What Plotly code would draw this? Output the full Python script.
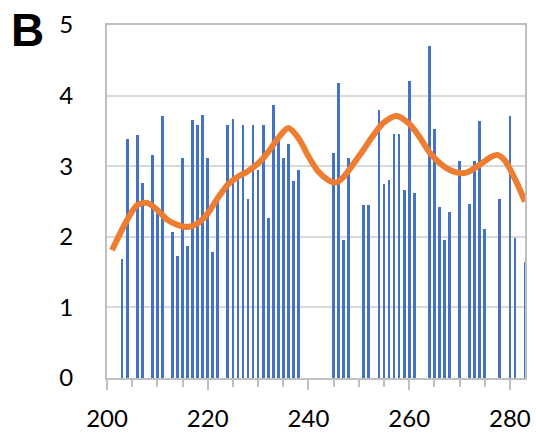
import plotly.graph_objects as go

# Bar data (x position, value)
bar_x = [203, 204, 206, 207, 209, 210, 211, 213, 214, 215, 216, 217, 218, 219, 220, 221, 222,
         224, 225, 226, 227, 228, 229, 230, 231, 232, 233, 234, 235, 236, 237, 238,
         245, 246, 247, 248, 251, 252, 254, 255, 256, 257, 258, 259, 260, 261,
         264, 265, 266, 267, 268, 270, 272, 273, 274, 275, 278, 280, 281, 283]
bar_y = [1.68, 3.38, 3.44, 2.76, 3.16, 2.36, 3.71, 2.07, 1.73, 3.12, 1.87, 3.65, 3.58, 3.72, 3.12, 1.78, 2.55,
         3.59, 3.67, 2.80, 3.59, 2.53, 3.59, 2.95, 3.59, 2.27, 3.86, 3.35, 3.11, 3.31, 2.79, 2.94,
         3.18, 4.18, 1.95, 3.12, 2.45, 2.45, 3.79, 2.75, 2.80, 3.46, 3.46, 2.66, 4.20, 2.62,
         4.70, 3.53, 2.42, 1.96, 2.35, 3.07, 2.46, 3.07, 3.64, 2.11, 2.53, 3.71, 1.98, 1.65]

# Smoothed trend line
line_x = [201, 204, 206, 208, 210, 212, 214, 216, 218, 220, 222, 224, 226, 228, 230, 232, 234,
          236, 238, 240, 242, 244, 245.5, 247, 249, 251, 253, 255, 257.5, 260, 262, 264,
          266, 268, 270.5, 272, 274, 276, 277.5, 279, 281, 283]
line_y = [1.81, 2.24, 2.45, 2.48, 2.38, 2.24, 2.17, 2.14, 2.19, 2.33, 2.55, 2.74, 2.85, 2.93, 3.04, 3.20, 3.40,
          3.54, 3.40, 3.14, 2.92, 2.80, 2.77, 2.85, 3.04, 3.24, 3.45, 3.62, 3.71, 3.60, 3.42, 3.20,
          3.05, 2.95, 2.90, 2.93, 3.02, 3.12, 3.16, 3.08, 2.82, 2.50]

x_ticks = [200, 220, 240, 260, 280]
y_ticks = [0, 1, 2, 3, 4, 5]
panel_label = "B"

fig = go.Figure()
fig.add_trace(go.Bar(x=bar_x, y=bar_y, width=0.55, marker=dict(color="#4472C4", line=dict(width=0)),
                     showlegend=False))
fig.add_trace(go.Scatter(x=line_x, y=line_y, mode="lines", line=dict(color="#ED7D31", width=6, shape="spline", smoothing=0.8),
                         showlegend=False, cliponaxis=True))

fig.update_layout(
    width=536, height=435,
    margin=dict(l=107, r=11, t=25, b=57),
    plot_bgcolor="white", paper_bgcolor="white",
    font=dict(family="Lato, Carlito, Calibri, sans-serif", size=24, color="#000000"),
    bargap=0,
    annotations=[dict(text="<b>" + panel_label + "</b>", xref="paper", yref="paper",
                      x=-0.191, y=0.985, xanchor="center", yanchor="middle", showarrow=False,
                      font=dict(family="Liberation Sans, Arial, sans-serif", size=46, color="#000000"))],
)
fig.update_xaxes(range=[200, 283], tickvals=x_ticks, ticktext=[str(v) for v in x_ticks],
                 showgrid=False, zeroline=False, automargin=False,
                 showline=True, linecolor="#bfbfbf", linewidth=2, mirror=True,
                 ticks="outside", ticklen=10, tickcolor="#bfbfbf", tickwidth=2,
                 minor=dict(dtick=5, tick0=200, ticks="outside", ticklen=7, tickcolor="#bfbfbf", tickwidth=2, showgrid=False),
                 ticklabelstandoff=8)
fig.update_yaxes(range=[0, 5], tickvals=y_ticks, ticktext=[str(v) for v in y_ticks],
                 showgrid=True, gridcolor="#d9d9d9", gridwidth=2, zeroline=False, automargin=False,
                 showline=True, linecolor="#bfbfbf", linewidth=2, mirror=True,
                 ticks="", ticklabelstandoff=27)

fig.write_html("out.html")
